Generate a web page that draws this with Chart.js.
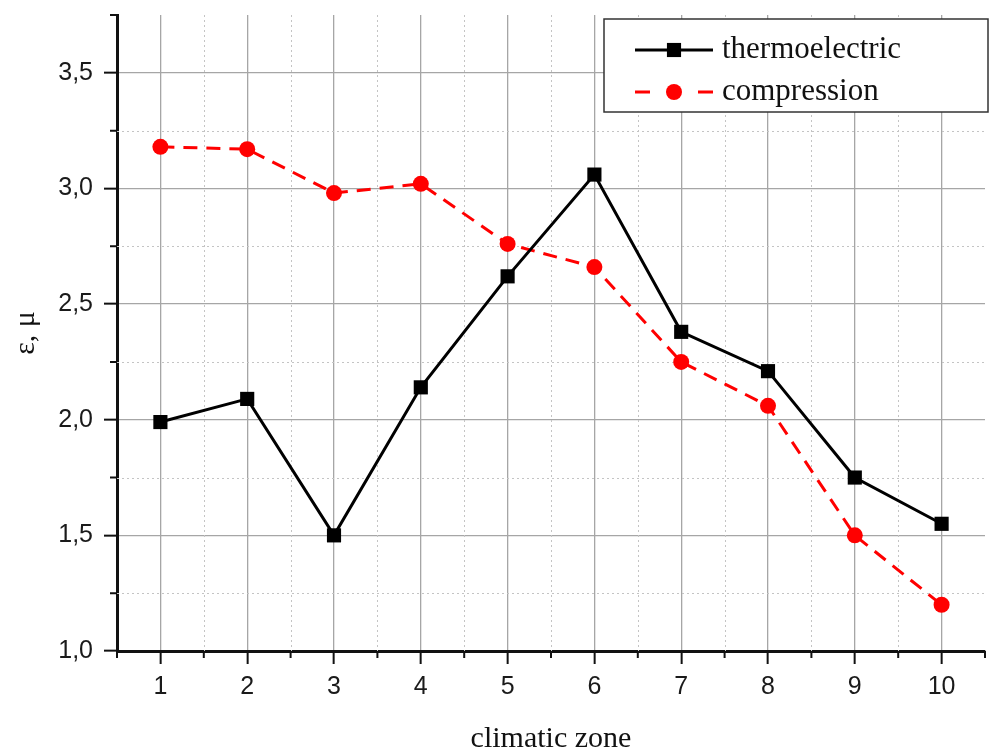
<!DOCTYPE html>
<html>
<head>
<meta charset="utf-8">
<script src="https://cdn.jsdelivr.net/npm/chart.js@4"></script>
<style>
  html, body { margin: 0; padding: 0; background: #fff; }
  #wrap { width: 990px; height: 751px; }
</style>
</head>
<body>
<div id="wrap"><canvas id="grafica" width="990" height="751"></canvas></div>
<script>
// climatic zones and values
const zones = [1, 2, 3, 4, 5, 6, 7, 8, 9, 10];
const thermoelectric = [1.99, 2.09, 1.50, 2.14, 2.62, 3.06, 2.38, 2.21, 1.75, 1.55];
const compression = [3.18, 3.17, 2.98, 3.02, 2.76, 2.66, 2.25, 2.06, 1.50, 1.20];

const yMajorTicks = [1.0, 1.5, 2.0, 2.5, 3.0, 3.5];
const yMinorTicks = [1.25, 1.75, 2.25, 2.75, 3.25, 3.75];
const xMajorTicks = zones;
const xMinorTicks = [0.5, 1.5, 2.5, 3.5, 4.5, 5.5, 6.5, 7.5, 8.5, 9.5, 10.5];

const serif = "'Liberation Serif', 'Times New Roman', serif";
const sans = "'Liberation Sans', Arial, sans-serif";

// dotted minor grid + short minor ticks
const minorGrid = {
  id: 'minorGrid',
  beforeDatasetsDraw(chart) {
    const { ctx, chartArea: a, scales: { x, y } } = chart;
    ctx.save();
    ctx.strokeStyle = '#c4c4c4';
    ctx.lineWidth = 1;
    ctx.setLineDash([2, 3]);
    ctx.beginPath();
    yMinorTicks.forEach(v => {
      const py = Math.round(y.getPixelForValue(v)) + 0.5;
      if (py > a.top + 2) { ctx.moveTo(a.left, py); ctx.lineTo(a.right, py); }
    });
    xMinorTicks.forEach(v => {
      const px = Math.round(x.getPixelForValue(v)) + 0.5;
      if (px > a.left + 2 && px < a.right - 2) { ctx.moveTo(px, a.top); ctx.lineTo(px, a.bottom); }
    });
    ctx.stroke();

    ctx.setLineDash([]);
    ctx.strokeStyle = '#111';
    ctx.lineWidth = 2;
    ctx.beginPath();
    yMinorTicks.forEach(v => {
      const py = y.getPixelForValue(v);
      ctx.moveTo(a.left - 7, py); ctx.lineTo(a.left, py);
    });
    xMinorTicks.forEach(v => {
      const px = x.getPixelForValue(v);
      ctx.moveTo(px, a.bottom); ctx.lineTo(px, a.bottom + 7);
    });
    ctx.stroke();
    ctx.restore();
  }
};

// legend in a framed box at the top right
const boxLegend = {
  id: 'boxLegend',
  afterDraw(chart) {
    const { ctx, chartArea: a } = chart;
    const left = a.left + 487, top = a.top + 4, right = a.right + 3, bottom = a.top + 97;
    ctx.save();
    ctx.fillStyle = '#fff';
    ctx.fillRect(left, top, right - left, bottom - top);
    ctx.strokeStyle = '#333';
    ctx.lineWidth = 1.5;
    ctx.strokeRect(left, top, right - left, bottom - top);

    chart.data.datasets.forEach((ds, i) => {
      const cy = top + 31 + i * 42;
      const x0 = left + 31, xm = left + 70, x1 = left + 109;
      ctx.strokeStyle = ds.borderColor;
      ctx.lineWidth = ds.borderWidth;
      ctx.setLineDash(ds.borderDash ? [15, 48] : []);
      ctx.beginPath();
      ctx.moveTo(x0, cy); ctx.lineTo(x1, cy);
      ctx.stroke();
      ctx.setLineDash([]);
      ctx.fillStyle = ds.pointBackgroundColor;
      Chart.helpers.drawPoint(ctx, { pointStyle: ds.pointStyle, radius: ds.pointRadius, borderWidth: 0, rotation: 0 }, xm, cy);
      ctx.fillStyle = '#111';
      ctx.font = '31px ' + serif;
      ctx.textBaseline = 'middle';
      ctx.textAlign = 'left';
      ctx.fillText(ds.label, x1 + 9, cy);
    });
    ctx.restore();
  }
};

function crearGrafica() {
  const ctx = document.getElementById('grafica').getContext('2d');
  return new Chart(ctx, {
    type: 'line',
    data: {
      datasets: [
        {
          label: 'thermoelectric',
          data: zones.map((z, i) => ({ x: z, y: thermoelectric[i] })),
          borderColor: '#000',
          backgroundColor: '#000',
          borderWidth: 3,
          pointStyle: 'rect',
          pointRadius: 10,
          pointBorderWidth: 0,
          pointBackgroundColor: '#000',
          tension: 0,
          fill: false
        },
        {
          label: 'compression',
          data: zones.map((z, i) => ({ x: z, y: compression[i] })),
          borderColor: '#f00',
          backgroundColor: '#f00',
          borderWidth: 3,
          borderDash: [14, 9],
          pointStyle: 'circle',
          pointRadius: 8,
          pointBorderWidth: 0,
          pointBackgroundColor: '#f00',
          tension: 0,
          fill: false
        }
      ]
    },
    options: {
      responsive: false,
      animation: false,
      layout: { autoPadding: false, padding: { top: 15, right: 5, left: 0, bottom: 0 } },
      scales: {
        x: {
          type: 'linear',
          min: 0.5,
          max: 10.5,
          afterBuildTicks: s => { s.ticks = xMajorTicks.map(v => ({ value: v })); },
          afterFit: s => { s.height = 100; s.paddingLeft = 0; s.paddingRight = 0; },
          ticks: {
            callback: v => String(v),
            font: { family: sans, size: 25 },
            color: '#1a1a1a',
            padding: 8,
            maxRotation: 0
          },
          grid: { color: '#a6a6a6', lineWidth: 1.3, tickLength: 13, tickWidth: 2, tickColor: '#111' },
          border: { color: '#111', width: 3 },
          title: {
            display: true,
            text: 'climatic zone',
            font: { family: serif, size: 30, lineHeight: 0.8 },
            color: '#111',
            padding: { top: 0, bottom: 0 }
          }
        },
        y: {
          min: 1.0,
          max: 3.75,
          afterBuildTicks: s => { s.ticks = yMajorTicks.map(v => ({ value: v })); },
          afterFit: s => { s.width = 117; s.paddingTop = 0; s.paddingBottom = 0; },
          ticks: {
            callback: v => v.toFixed(1).replace('.', ','),
            font: { family: sans, size: 25 },
            color: '#1a1a1a',
            padding: 11
          },
          grid: { color: '#a6a6a6', lineWidth: 1.3, tickLength: 13, tickWidth: 2, tickColor: '#111' },
          border: { color: '#111', width: 3 },
          title: {
            display: true,
            text: 'ε, μ',
            font: { family: serif, size: 30 },
            color: '#111',
            padding: { top: 8, bottom: 0 }
          }
        }
      },
      plugins: {
        legend: { display: false },
        tooltip: { enabled: false }
      }
    },
    plugins: [minorGrid, boxLegend]
  });
}

crearGrafica();
</script>
</body>
</html>
